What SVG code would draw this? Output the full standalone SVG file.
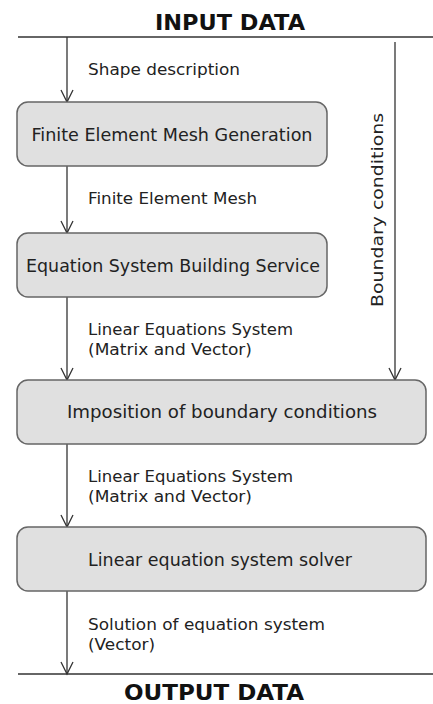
<svg xmlns="http://www.w3.org/2000/svg" width="433" height="704" viewBox="0 0 433 704">
<style>
.bg{fill:#ffffff}
.node rect{fill:#e0e0e0;stroke:#666666;stroke-width:1.5}
.node text{font-family:"DejaVu Sans","Liberation Sans",sans-serif;font-size:17.5px;fill:#222222;text-anchor:middle}
.lbl{font-family:"DejaVu Sans","Liberation Sans",sans-serif;font-size:16.5px;fill:#222222}
.title{font-family:"DejaVu Sans","Liberation Sans",sans-serif;font-size:22px;font-weight:bold;fill:#111111;text-anchor:middle}
.edge{stroke:#333333;stroke-width:1.3;fill:none}
</style>
<defs>
<marker id="arr" markerWidth="16" markerHeight="16" refX="13" refY="8" orient="auto" markerUnits="userSpaceOnUse" viewBox="0 0 16 16">
<path d="M1,2 L13,8 L1,14" fill="none" stroke="#333333" stroke-width="1.3"/>
</marker>
</defs>
<rect class="bg" x="0" y="0" width="433" height="704"/>

<g id="input">
<line x1="18" y1="37" x2="433" y2="37" stroke="#333333" stroke-width="1.3"/>
<text class="title" x="230" y="30" textLength="150" lengthAdjust="spacingAndGlyphs">INPUT DATA</text>
</g>
<g id="output">
<line x1="18" y1="674" x2="433" y2="674" stroke="#333333" stroke-width="1.3"/>
<text class="title" x="214" y="700" textLength="180" lengthAdjust="spacingAndGlyphs">OUTPUT DATA</text>
</g>

<g id="connectors">
<path class="edge" d="M67,37 L67,102" marker-end="url(#arr)"/>
<path class="edge" d="M67,166 L67,233" marker-end="url(#arr)"/>
<path class="edge" d="M67,297 L67,380" marker-end="url(#arr)"/>
<path class="edge" d="M395,42 L395,380" marker-end="url(#arr)"/>
<path class="edge" d="M67,444 L67,527" marker-end="url(#arr)"/>
<path class="edge" d="M67,591 L67,674" marker-end="url(#arr)"/>
<text class="lbl" x="88" y="75" textLength="152" lengthAdjust="spacingAndGlyphs">Shape description</text>
<text class="lbl" x="88" y="204" textLength="169" lengthAdjust="spacingAndGlyphs">Finite Element Mesh</text>
<text class="lbl" x="88" y="335" textLength="205" lengthAdjust="spacingAndGlyphs">Linear Equations System</text>
<text class="lbl" x="88" y="355" textLength="164" lengthAdjust="spacingAndGlyphs">(Matrix and Vector)</text>
<text class="lbl" x="88" y="482" textLength="205" lengthAdjust="spacingAndGlyphs">Linear Equations System</text>
<text class="lbl" x="88" y="502" textLength="164" lengthAdjust="spacingAndGlyphs">(Matrix and Vector)</text>
<text class="lbl" x="88" y="630" textLength="237" lengthAdjust="spacingAndGlyphs">Solution of equation system</text>
<text class="lbl" x="88" y="650" textLength="67" lengthAdjust="spacingAndGlyphs">(Vector)</text>
<text class="lbl" transform="translate(383,307) rotate(-90)" x="0" y="0" textLength="194" lengthAdjust="spacingAndGlyphs">Boundary conditions</text>
</g>

<g id="mesh" class="node">
<rect x="17" y="102" width="310" height="64" rx="11" ry="11"/>
<text x="172" y="141" textLength="281" lengthAdjust="spacingAndGlyphs">Finite Element Mesh Generation</text>
</g>
<g id="eqbuild" class="node">
<rect x="17" y="233" width="310" height="64" rx="11" ry="11"/>
<text x="173" y="272" textLength="294" lengthAdjust="spacingAndGlyphs">Equation System Building Service</text>
</g>
<g id="impose" class="node">
<rect x="17" y="380" width="409" height="64" rx="11" ry="11"/>
<text x="222" y="418" textLength="310" lengthAdjust="spacingAndGlyphs">Imposition of boundary conditions</text>
</g>
<g id="solver" class="node">
<rect x="17" y="527" width="409" height="64" rx="11" ry="11"/>
<text x="220" y="566" textLength="264" lengthAdjust="spacingAndGlyphs">Linear equation system solver</text>
</g>
</svg>
